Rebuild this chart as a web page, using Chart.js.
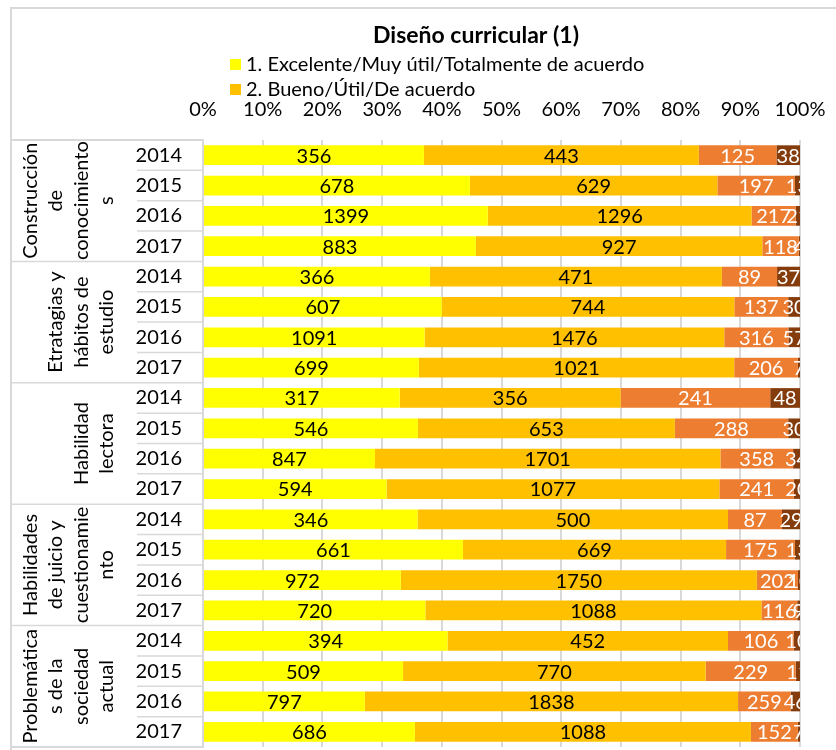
<!DOCTYPE html>
<html lang="es">
<head>
  <meta charset="UTF-8">
  <title>Diseño curricular (1)</title>
  <script src="https://cdn.jsdelivr.net/npm/chart.js"></script>
  <style>
    html, body { margin: 0; padding: 0; background: #fff; }
    #wrap { width: 836px; height: 750px; position: relative; }
  </style>
</head>
<body>
  <div id="wrap">
    <canvas id="chart" width="836" height="750"></canvas>
  </div>

  <script>
    // Data
    const years = ['2014', '2015', '2016', '2017'];
    const groupNames = [
      ['Construcción', 'de', 'conocimiento', 's'],
      ['Etratagias y', 'hábitos de', 'estudio'],
      ['Habilidad', 'lectora'],
      ['Habilidades', 'de juicio y', 'cuestionamie', 'nto'],
      ['Problemática', 's de la', 'sociedad', 'actual']
    ];
    const seriesNames = [
      '1. Excelente/Muy útil/Totalmente de acuerdo',
      '2. Bueno/Útil/De acuerdo',
      '3. Regular',
      '4. Malo'
    ];
    const excelente = [356, 678, 1399, 883, 366, 607, 1091, 699, 317, 546, 847, 594, 346, 661, 972, 720, 394, 509, 797, 686];
    const bueno = [443, 629, 1296, 927, 471, 744, 1476, 1021, 356, 653, 1701, 1077, 500, 669, 1750, 1088, 452, 770, 1838, 1088];
    const regular = [125, 197, 217, 118, 89, 137, 316, 206, 241, 288, 358, 241, 87, 175, 202, 116, 106, 229, 259, 152];
    const malo = [38, 13, 21, 4, 37, 30, 57, 7, 48, 30, 34, 20, 29, 13, 10, 9, 10, 11, 46, 7];
    const xTicks = [0, 10, 20, 30, 40, 50, 60, 70, 80, 90, 100];

    const colors = ['#FFFF00', '#FFC000', '#ED7D31', '#843C0C'];
    const labelColors = ['#000', '#000', '#fff', '#fff'];
    const FONT = 'Lato';

    const counts = [excelente, bueno, regular, malo];
    const labels = [];
    groupNames.forEach(() => years.forEach(y => labels.push(y)));
    const totals = excelente.map((v, i) => v + bueno[i] + regular[i] + malo[i]);

    const datasets = counts.map((arr, s) => ({
      label: seriesNames[s],
      data: arr.map((v, i) => v / totals[i] * 100),
      raw: arr,
      backgroundColor: colors[s],
      borderWidth: 0,
      barPercentage: 0.65,
      categoryPercentage: 1
    }));

    // title, legend, category boxes and group labels
    const decor = {
      id: 'decor',
      beforeDraw(chart) {
        const ctx = chart.ctx;
        const a = chart.chartArea;
        const rowH = (a.bottom - a.top) / labels.length;
        ctx.save();
        ctx.strokeStyle = '#d9d9d9';
        ctx.lineWidth = 2;
        ctx.beginPath();
        // outer frame
        ctx.moveTo(11, 750); ctx.lineTo(11, 8); ctx.lineTo(836, 8);
        // category box top / bottom
        ctx.moveTo(11, a.top); ctx.lineTo(a.left, a.top);
        ctx.moveTo(11, a.bottom); ctx.lineTo(a.left, a.bottom);
        ctx.stroke();
        ctx.lineWidth = 1.5;
        ctx.beginPath();
        for (let i = 1; i < labels.length; i++) {
          const y = a.top + i * rowH;
          const x0 = (i % years.length === 0) ? 11 : 137;
          ctx.moveTo(x0, y); ctx.lineTo(a.left, y);
        }
        ctx.stroke();

        // title
        ctx.fillStyle = '#000';
        ctx.font = 'bold 23px ' + FONT;
        ctx.textAlign = 'center';
        ctx.textBaseline = 'middle';
        ctx.fillText('Diseño curricular (1)', 476, 36);

        // legend (only the first two entries are visible)
        ctx.font = '20px ' + FONT;
        ctx.textAlign = 'left';
        [0, 1].forEach((s, k) => {
          const y = 64 + k * 25;
          ctx.fillStyle = colors[s];
          ctx.fillRect(230, y - 5, 11, 11);
          ctx.fillStyle = '#000';
          ctx.fillText(seriesNames[s], 246, y + 1);
        });

        // group labels, rotated
        ctx.font = '20px ' + FONT;
        ctx.textAlign = 'center';
        groupNames.forEach((lines, g) => {
          const cy = a.top + (g * years.length + years.length / 2) * rowH;
          lines.forEach((line, j) => {
            const cx = 106 - (lines.length - 1 - j) * 25.5;
            ctx.save();
            ctx.translate(cx, cy);
            ctx.rotate(-Math.PI / 2);
            ctx.fillText(line, 0, 1);
            ctx.restore();
          });
        });
        ctx.restore();
      },
      afterDatasetsDraw(chart) {
        const ctx = chart.ctx;
        const a = chart.chartArea;
        ctx.save();
        ctx.beginPath();
        ctx.rect(a.left, a.top, a.right - a.left, a.bottom - a.top);
        ctx.clip();
        ctx.font = '20px ' + FONT;
        ctx.textAlign = 'center';
        ctx.textBaseline = 'middle';
        chart.data.datasets.forEach((ds, s) => {
          const meta = chart.getDatasetMeta(s);
          meta.data.forEach((bar, i) => {
            const p = bar.getProps(['x', 'y', 'base'], true);
            ctx.fillStyle = labelColors[s];
            ctx.fillText(String(ds.raw[i]), (p.x + p.base) / 2, p.y + 1);
          });
        });
        ctx.restore();
      }
    };

    new Chart(document.getElementById('chart'), {
      type: 'bar',
      data: { labels: labels, datasets: datasets },
      options: {
        indexAxis: 'y',
        responsive: false,
        animation: false,
        layout: { padding: { left: 0, right: 36, top: 0, bottom: 3 } },
        plugins: {
          legend: { display: false },
          title: { display: false },
          tooltip: { enabled: false }
        },
        scales: {
          x: {
            position: 'top',
            stacked: true,
            min: 0,
            max: 100,
            afterBuildTicks: scale => { scale.ticks = xTicks.map(v => ({ value: v })); },
            afterFit: scale => {
              scale.height = 140;
              scale.paddingLeft = 0;
              scale.paddingRight = 0;
            },
            ticks: {
              callback: v => v + '%',
              font: { family: FONT, size: 20 },
              color: '#000',
              padding: 18,
              maxRotation: 0
            },
            grid: { color: '#d9d9d9', lineWidth: 2, drawTicks: false },
            border: { display: false }
          },
          y: {
            stacked: true,
            afterFit: scale => {
              scale.width = 203;
              scale.paddingTop = 0;
              scale.paddingBottom = 0;
            },
            ticks: {
              font: { family: FONT, size: 20 },
              color: '#000',
              padding: 21,
              autoSkip: false
            },
            grid: { display: false, drawTicks: false },
            border: { display: true, color: '#d9d9d9', width: 2 }
          }
        }
      },
      plugins: [decor]
    });
  </script>
</body>
</html>
